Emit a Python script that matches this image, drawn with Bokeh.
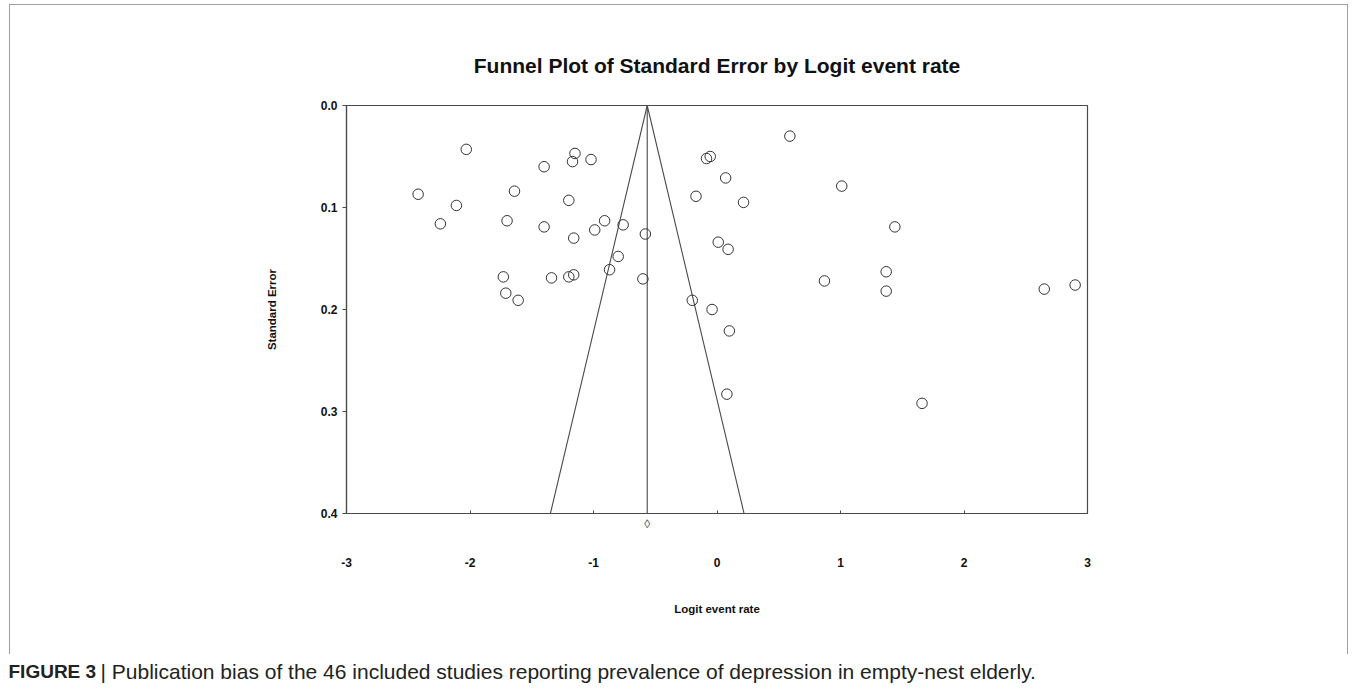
from bokeh.plotting import figure
from bokeh.models import (Range1d, FixedTicker, PrintfTickFormatter, LinearAxis,
                          CustomJSTickFormatter, ColumnDataSource)
from bokeh.core.properties import value
from bokeh.embed import file_html
from bokeh.resources import INLINE

# ---------------- data ----------------
logit_rate = [-2.03, -2.42, -2.11, -2.24, -1.64, -1.70, -1.40, -1.40, -1.15, -1.17,
              -1.02, -1.20, -1.16, -0.91, -0.99, -0.76, -0.58, -0.80, -0.87, -1.73,
              -1.34, -1.20, -1.16, -0.60, -1.71, -1.61, -0.20, -0.04, 0.10, -0.085,
              -0.055, 0.07, -0.17, 0.01, 0.09, 0.59, 0.215, 1.01, 1.44, 1.37,
              0.87, 1.37, 2.65, 2.90, 0.08, 1.66]
std_error = [0.043, 0.087, 0.098, 0.116, 0.084, 0.113, 0.060, 0.119, 0.047, 0.055,
             0.053, 0.093, 0.130, 0.113, 0.122, 0.117, 0.126, 0.148, 0.161, 0.168,
             0.169, 0.168, 0.166, 0.170, 0.184, 0.191, 0.191, 0.200, 0.221, 0.052,
             0.050, 0.071, 0.089, 0.134, 0.141, 0.030, 0.095, 0.079, 0.119, 0.163,
             0.172, 0.182, 0.180, 0.176, 0.283, 0.292]
pooled_effect = -0.565
x_ticks = [-3, -2, -1, 0, 1, 2, 3]
y_ticks = [0.0, 0.1, 0.2, 0.3, 0.4]
se_max = 0.4
z = 1.96

title_text = "Funnel Plot of Standard Error by Logit event rate"
x_label = "Logit event rate"
y_label = "Standard Error"
caption_bold = "FIGURE 3"
caption_text = "| Publication bias of the 46 included studies reporting prevalence of depression in empty-nest elderly."

# ---------------- layout ----------------
W, H = 1339, 650          # main panel (inside the grey box)
FL, FT, FW, FH = 336, 100, 741, 408
FONT = "Liberation Sans"
INK = "#4a4a4a"
TXT = "#111111"
BORDER = "#a0a0a0"

p = figure(width=W, height=H, output_backend="svg", toolbar_location=None,
           x_range=Range1d(x_ticks[0], x_ticks[-1]), y_range=Range1d(se_max, 0.0),
           x_axis_location=None,
           min_border_left=FL, min_border_top=FT,
           min_border_right=W - FL - FW, min_border_bottom=H - FT - FH)
p.styles = {"margin-left": "9px", "margin-top": "4px",
            "border-left": f"1px solid {BORDER}", "border-right": f"1px solid {BORDER}",
            "border-top": f"1px solid {BORDER}"}
p.background_fill_color = "white"
p.border_fill_color = "white"
p.grid.grid_line_color = None
p.outline_line_color = INK
p.outline_line_width = 1.2

# title
p.title.text = title_text
p.title.align = "center"
p.title.text_font = FONT
p.title.text_font_style = "bold"
p.title.text_font_size = "21px"
p.title.text_color = TXT
p.title.standoff = 57


def style_axis(ax):
    ax.axis_line_color = INK
    ax.axis_line_width = 1.2
    ax.major_tick_line_color = INK
    ax.minor_tick_line_color = None
    ax.major_label_text_font = FONT
    ax.major_label_text_font_style = "bold"
    ax.major_label_text_font_size = "12px"
    ax.major_label_text_color = TXT
    ax.axis_label_text_font = FONT
    ax.axis_label_text_font_style = "bold"
    ax.axis_label_text_font_size = "11.5px"
    ax.axis_label_text_color = TXT


# y axis
yax = p.yaxis[0]
style_axis(yax)
yax.ticker = FixedTicker(ticks=y_ticks)
yax.formatter = PrintfTickFormatter(format="%.1f")
yax.major_tick_in = 0
yax.major_tick_out = 4
yax.major_label_standoff = 5
yax.axis_label = y_label
yax.axis_label_standoff = 40

# inner x axis: tick marks + pooled-estimate diamond
dax = LinearAxis(ticker=FixedTicker(ticks=[pooled_effect], minor_ticks=x_ticks),
                 formatter=CustomJSTickFormatter(code="return '\u25CA'"))
style_axis(dax)
dax.major_tick_line_color = None
dax.minor_tick_line_color = INK
dax.minor_tick_in = 3
dax.minor_tick_out = 0
dax.major_label_standoff = -3
dax.major_label_text_font_style = "normal"
dax.major_label_text_font_size = "12px"
dax.major_label_text_color = INK
p.add_layout(dax, "below")

# outer x axis: labels
xax = LinearAxis(ticker=FixedTicker(ticks=x_ticks), axis_label=x_label,
                 formatter=PrintfTickFormatter(format="%d"))
style_axis(xax)
xax.axis_line_color = None
xax.major_tick_line_color = None
xax.major_label_standoff = 18
xax.axis_label_standoff = 33
p.add_layout(xax, "below")

# funnel
p.line([pooled_effect - z * se_max, pooled_effect, pooled_effect + z * se_max],
       [se_max, 0.0, se_max], line_color=INK, line_width=1.1)
p.line([pooled_effect, pooled_effect], [0.0, se_max], line_color=INK, line_width=1.1)

# studies
src = ColumnDataSource(dict(x=logit_rate, y=std_error))
p.scatter("x", "y", source=src, marker="circle", size=10.5,
          fill_color=None, line_color="#333333", line_width=1)

# ---------------- caption strip (separate root, below the box) ----------------
CW, CH = 1350, 35
cap = figure(width=CW, height=CH, output_backend="svg", toolbar_location=None,
             x_range=Range1d(0, CW), y_range=Range1d(CH, 0),
             x_axis_location=None, y_axis_location=None,
             min_border=0, outline_line_color=None)
cap.grid.grid_line_color = None
cap.background_fill_color = "white"
cap.border_fill_color = "white"
CAP_FONT = "Liberation Sans"
cap.text(x=[8], y=[17], text=[caption_bold], text_font=value(CAP_FONT),
         text_font_style="bold", text_font_size=value("19px"),
         text_baseline="middle", text_align="left", text_color="#222222")
cap.text(x=[100], y=[17], text=[caption_text], text_font=value(CAP_FONT),
         text_font_size=value("21px"),
         text_baseline="middle", text_align="left", text_color="#222222")

open("out.html", "w").write(file_html([p, cap], INLINE))
